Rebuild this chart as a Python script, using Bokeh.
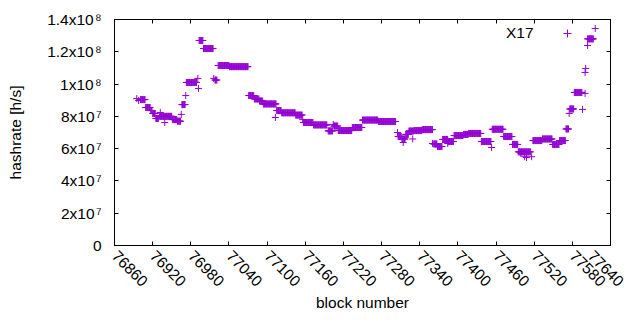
import math
from bokeh.plotting import figure
from bokeh.models import Range1d, FixedTicker, LinearAxis, Label, Legend, LegendItem, ColumnDataSource
from bokeh.embed import file_html
from bokeh.resources import INLINE

# ---- data (hashrate in units of 1e7 H/s) ----
# runs of consecutive blocks with the same hashrate
run_start = [76901, 76909, 76917, 76920, 76925, 76931, 76951, 76959, 76966, 76973,
             76993, 77000, 77018, 77023, 77041, 77071, 77080, 77088, 77094, 77115,
             77123, 77145, 77157, 77173, 77196, 77205, 77212, 77234, 77250, 77275,
             77306, 77312, 77318, 77323, 77331, 77344, 77362, 77368, 77376, 77385,
             77394, 77409, 77417, 77437, 77454, 77472, 77486, 77495, 77518, 77533,
             77549, 77560, 77570, 77576, 77583, 77604]
run_end = [76908, 76916, 76919, 76924, 76929, 76950, 76958, 76964, 76971, 76989,
           76999, 77015, 77021, 77040, 77070, 77079, 77087, 77093, 77114, 77122,
           77144, 77155, 77172, 77194, 77203, 77211, 77233, 77249, 77274, 77302,
           77311, 77317, 77322, 77330, 77343, 77360, 77367, 77375, 77384, 77393,
           77408, 77416, 77436, 77452, 77471, 77485, 77494, 77514, 77532, 77548,
           77559, 77569, 77574, 77582, 77595, 77613]
run_value = [9.04, 8.55, 8.36, 8.18, 7.87, 8.00, 7.80, 7.70, 8.73, 10.10,
             12.70, 12.20, 10.25, 11.15, 11.08, 9.29, 9.08, 8.95, 8.77, 8.36,
             8.22, 8.08, 7.62, 7.47, 7.10, 7.40, 7.12, 7.31, 7.77, 7.68,
             6.75, 6.60, 6.88, 7.09, 7.12, 7.18, 6.29, 6.13, 6.57, 6.44,
             6.81, 6.88, 6.94, 6.44, 7.20, 6.75, 6.26, 5.80, 6.50, 6.60,
             6.26, 6.50, 7.22, 8.46, 9.48, 12.80]

# single scattered blocks
point_block = [76895, 76898, 76932, 76939, 76965, 76972, 76991, 76992, 77016, 77113,
               77156, 77204, 77305, 77314, 77329, 77360, 77384, 77453, 77499, 77505,
               77508, 77516, 77575, 77596, 77600, 77600, 77601, 77604, 77616]
point_value = [9.10, 8.98, 8.24, 7.62, 8.12, 9.29, 10.35, 9.73, 10.35, 7.93,
               7.80, 7.50, 7.00, 6.38, 6.60, 6.32, 6.32, 6.07, 5.70, 5.50,
               5.45, 5.50, 8.18, 8.43, 9.42, 10.72, 10.97, 12.39, 13.44]

x_ticks = list(range(76860, 77641, 60))
y_ticks = [0, 20000000, 40000000, 60000000, 80000000, 100000000, 120000000, 140000000]
y_tick_labels = ["0", "2x10\u200a\u2077", "4x10\u200a\u2077", "6x10\u200a\u2077",
                 "8x10\u200a\u2077", "1x10\u200a\u2078", "1.2x10\u200a\u2078",
                 "1.4x10\u200a\u2078"]

blocks, rates = [], []
for s, e, v in zip(run_start, run_end, run_value):
    for b in range(s, e + 1):
        blocks.append(b)
        rates.append(v * 1e7)
for b, v in zip(point_block, point_value):
    blocks.append(b)
    rates.append(v * 1e7)

FONT = "Liberation Sans"
FS = "15.5px"
COLOR = "#9400D3"

p = figure(width=624, height=314, output_backend="svg", toolbar_location=None,
           x_range=Range1d(76860, 77640), y_range=Range1d(0, 1.4e8),
           min_border_left=114, min_border_right=14, min_border_top=19, min_border_bottom=69)
p.xgrid.visible = False
p.ygrid.visible = False
p.outline_line_color = "black"
p.outline_line_width = 1
p.background_fill_color = "white"
p.border_fill_color = "white"

src = ColumnDataSource(dict(x=blocks, y=rates))
r = p.scatter("x", "y", source=src, marker="cross", size=7, line_color=COLOR, line_width=1)

for ax in (p.xaxis[0], p.yaxis[0]):
    ax.major_tick_in = 4
    ax.major_tick_out = 0
    ax.minor_tick_line_color = None
    ax.axis_line_color = "black"
    ax.major_tick_line_color = "black"
    ax.major_label_text_font = FONT
    ax.major_label_text_font_size = FS
    ax.major_label_text_color = "black"
    ax.axis_label_text_font = FONT
    ax.axis_label_text_font_size = FS
    ax.axis_label_text_font_style = "normal"
    ax.axis_label_text_color = "black"

p.xaxis[0].ticker = FixedTicker(ticks=x_ticks)
p.xaxis[0].major_label_orientation = -math.pi / 4
p.xaxis[0].axis_label = "block number"
p.xaxis[0].major_label_standoff = 8
p.xaxis[0].axis_label_standoff = 0

p.yaxis[0].ticker = FixedTicker(ticks=y_ticks)
p.yaxis[0].major_label_overrides = {t: l for t, l in zip(y_ticks, y_tick_labels)}
p.yaxis[0].axis_label = "hashrate [h/s]"
p.yaxis[0].major_label_standoff = 13
p.yaxis[0].axis_label_standoff = 20

# mirrored ticks on top and right (no labels)
top = LinearAxis(ticker=FixedTicker(ticks=x_ticks), major_tick_in=4, major_tick_out=0,
                 minor_tick_line_color=None, major_label_standoff=0, axis_line_color="black",
                 major_label_overrides={t: "" for t in x_ticks})
right = LinearAxis(ticker=FixedTicker(ticks=y_ticks), major_tick_in=4, major_tick_out=0,
                   minor_tick_line_color=None, major_label_standoff=0, axis_line_color="black",
                   major_label_overrides={t: "" for t in y_ticks})
p.add_layout(top, "above")
p.add_layout(right, "right")

# key: title then sample
p.add_layout(Label(x=419, y=213, x_units="screen", y_units="screen", text="X17",
                   text_align="right", text_baseline="middle", text_font=FONT,
                   text_font_size=FS, text_color="black"))
legend = Legend(items=[LegendItem(label=" ", renderers=[r])], location=(443, 202),
                padding=0, margin=0, spacing=0, glyph_width=20, glyph_height=20,
                label_standoff=0, label_width=1, label_height=20,
                border_line_color=None, background_fill_alpha=0,
                label_text_font_size=FS)
p.add_layout(legend, "center")

open("out.html", "w").write(file_html(p, INLINE))
